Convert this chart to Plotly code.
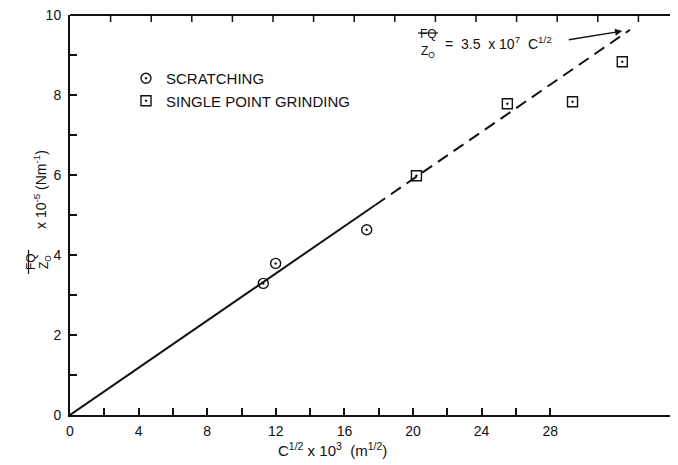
import plotly.graph_objects as go

# ---------------- data ----------------
scratch_x = [11.27, 11.99, 17.3]
scratch_y = [3.29, 3.79, 4.63]

grind_x = [20.2, 25.5, 29.3, 32.2]
grind_y = [5.98, 7.78, 7.83, 8.83]

fit_solid_x = [0, 17.8]
fit_solid_y = [0, 5.25]
fit_dash_x = [17.8, 32.65]
fit_dash_y = [5.25, 9.63]

x_tickvals = list(range(0, 30, 2))
x_ticktext = [str(v) if v % 4 == 0 else "" for v in x_tickvals]
y_tickvals = list(range(0, 11))
y_ticktext = [str(v) if v % 2 == 0 else "" for v in y_tickvals]
frame_top_ticks = list(range(1, 15))      # graph-paper frame ticks (top edge)
frame_right_ticks = list(range(1, 10))    # graph-paper frame ticks (right edge)

# ---------------- geometry (window pixels; page body has an 8px margin) ----
BODY = 8
PLOT_L, PLOT_R, PLOT_T, PLOT_B = 70, 678, 15, 415
W = PLOT_R - BODY
H = 465 - BODY
L, R, T, B = PLOT_L - BODY, 0, PLOT_T - BODY, H - (PLOT_B - BODY)
PW, PH = PLOT_R - PLOT_L, PLOT_B - PLOT_T
FONT = "Liberation Sans, Arial, sans-serif"
INK = "#111111"
TOP_STEP_PX = 40.6


def px(xw):
    return (xw - PLOT_L) / PW


def py(yw):
    return (PLOT_B - yw) / PH


X_MAX = 35.45

fig = go.Figure()

fig.add_trace(go.Scatter(x=fit_solid_x, y=fit_solid_y, mode="lines",
                         line=dict(color=INK, width=2), showlegend=False,
                         hoverinfo="skip"))
fig.add_trace(go.Scatter(x=fit_dash_x, y=fit_dash_y, mode="lines",
                         line=dict(color=INK, width=2, dash="12px,7px"),
                         showlegend=False, hoverinfo="skip"))

fig.add_trace(go.Scatter(x=scratch_x, y=scratch_y, mode="markers",
                         name="SCRATCHING",
                         marker=dict(symbol="circle-open-dot", size=10,
                                     color=INK, line=dict(color=INK, width=1.4))))
fig.add_trace(go.Scatter(x=grind_x, y=grind_y, mode="markers",
                         name="SINGLE POINT GRINDING",
                         marker=dict(symbol="square-open-dot", size=10,
                                     color=INK, line=dict(color=INK, width=1.4))))

fig.update_layout(
    width=W, height=H,
    margin=dict(l=L, r=R, t=T, b=B),
    paper_bgcolor="white", plot_bgcolor="white",
    font=dict(family=FONT, size=14, color=INK),
    showlegend=True,
    legend=dict(x=px(126), y=py(62), xanchor="left", yanchor="top",
                bgcolor="rgba(0,0,0,0)", borderwidth=0,
                font=dict(family=FONT, size=15, color=INK),
                itemwidth=30, tracegroupgap=0),
    xaxis=dict(range=[0, X_MAX], showgrid=False, zeroline=False,
               showline=True, linecolor=INK, linewidth=2,
               ticks="inside", ticklen=7, tickwidth=1.5, tickcolor=INK,
               tickvals=x_tickvals, ticktext=x_ticktext,
               tickfont=dict(family=FONT, size=14, color=INK),
               ticklabelstandoff=2, ticklabeloverflow="allow"),
    yaxis=dict(range=[0, 10], showgrid=False, zeroline=False,
               showline=True, linecolor=INK, linewidth=2,
               ticks="inside", ticklen=7, tickwidth=1.5, tickcolor=INK,
               tickvals=y_tickvals, ticktext=y_ticktext,
               tickfont=dict(family=FONT, size=14, color=INK),
               ticklabelstandoff=4, ticklabeloverflow="allow"),
)

# ---- frame decoration: top border with its own ticks, right-edge ticks ----
fig.add_shape(type="line", xref="paper", yref="paper", x0=0, x1=1,
              y0=1, y1=1, line=dict(color=INK, width=2), layer="above")
for k in frame_top_ticks:
    xk = k * TOP_STEP_PX / PW
    fig.add_shape(type="line", xref="paper", yref="paper", x0=xk, x1=xk,
                  y0=1, y1=1 - 7 / PH, line=dict(color=INK, width=1.5),
                  layer="above")
for k in frame_right_ticks:
    fig.add_shape(type="line", xref="paper", yref="y", x0=1, x1=1 - 5 / PW,
                  y0=k, y1=k, line=dict(color=INK, width=1.5), layer="above")

ann = []
# y-axis title: fraction FQ / Zo then "x 10^-5 (Nm^-1)"
FR_Y = 262
ann.append(dict(text="FQ", x=px(22), y=py(FR_Y), xref="paper", yref="paper",
                textangle=-90, showarrow=False, font=dict(size=12)))
ann.append(dict(text="Z<sub>O</sub>", x=px(35), y=py(FR_Y), xref="paper",
                yref="paper", textangle=-90, showarrow=False,
                font=dict(size=12)))
ann.append(dict(text="x 10<sup>-5</sup> (Nm<sup>-1</sup>)", x=px(29),
                y=py(190), xref="paper", yref="paper", textangle=-90,
                showarrow=False, font=dict(size=14)))
# x-axis title
ann.append(dict(text="C<sup>1/2</sup> x 10<sup>3</sup>  (m<sup>1/2</sup>)",
                x=px(332), y=py(461), xref="paper", yref="paper",
                showarrow=False, font=dict(size=15)))
# equation label
ann.append(dict(text="FQ", x=px(428), y=py(25), xref="paper", yref="paper",
                showarrow=False, font=dict(size=12)))
ann.append(dict(text="Z<sub>O</sub>", x=px(428), y=py(42), xref="paper",
                yref="paper", showarrow=False, font=dict(size=12)))
ann.append(dict(text="=  3.5  x 10<sup>7</sup>  C<sup>1/2</sup>",
                x=px(443), y=py(32), xref="paper", yref="paper",
                xanchor="left", showarrow=False, font=dict(size=14)))
# arrow to the line
ann.append(dict(text="", x=32.2, y=9.6, xref="x", yref="y", ax=-55, ay=9,
                showarrow=True, arrowhead=2, arrowsize=1.1, arrowwidth=1.3,
                arrowcolor=INK))
fig.update_layout(annotations=ann)

# fraction bars
fig.add_shape(type="line", xref="paper", yref="paper",
              x0=px(28.5), x1=px(28.5), y0=py(FR_Y - 12), y1=py(FR_Y + 12),
              line=dict(color=INK, width=1.2))
fig.add_shape(type="line", xref="paper", yref="paper",
              x0=px(418), x1=px(438), y0=py(33), y1=py(33),
              line=dict(color=INK, width=1.2))

fig.write_html("out.html")
